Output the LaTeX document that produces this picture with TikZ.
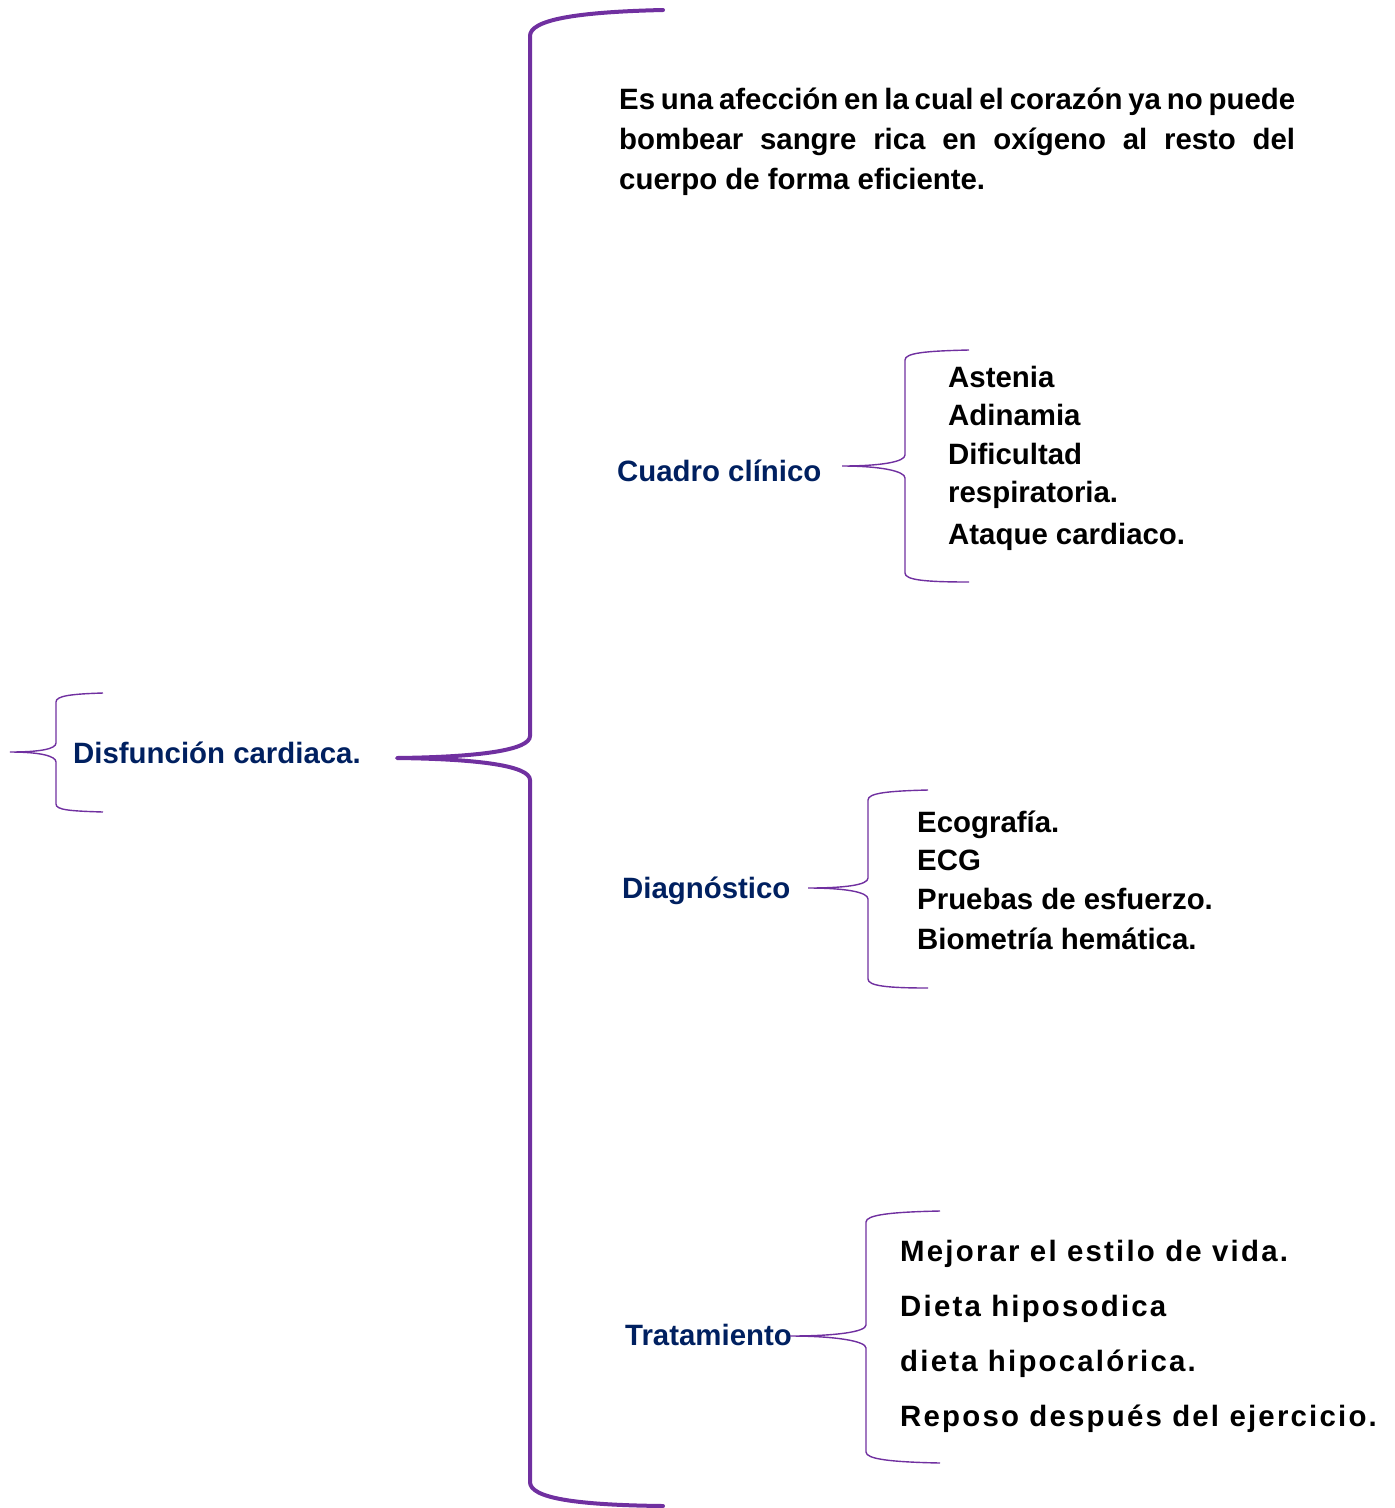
\documentclass[tikz,border=0pt]{standalone}
\usepackage{fontspec}
\setmainfont{Liberation Sans}
\newfontfamily\spacedfont[LetterSpace=7.5]{Liberation Sans}
\definecolor{brpurple}{HTML}{7030A0}
\definecolor{navy}{RGB}{0,32,96}
\begin{document}
\begin{tikzpicture}[x=1pt,y=-1pt,
  bigbr/.style={draw=brpurple,line width=4pt,line cap=round,line join=round},
  smallbr/.style={draw=brpurple,line width=1.4pt},
  txt/.style={anchor=base west,inner sep=0pt,font=\fontsize{29.4}{36}\selectfont\bfseries},
  head/.style={txt,text=navy},
  item/.style={txt,text=black},
  spaced/.style={anchor=base west,inner sep=0pt,text=black,font=\fontsize{29.4}{36}\selectfont\spacedfont\bfseries}]
\useasboundingbox (0,0) rectangle (1395,1508);

% main label
\node[head] (disf) at (73,763) {Disfunción cardiaca.};

% definition paragraph
\node[item] (def1) at (619,109) {\makebox[676pt][s]{Es una afección en la cual el corazón ya no puede}};
\node[item] (def2) at (619,149) {\makebox[676pt][s]{bombear sangre rica en oxígeno al resto del}};
\node[item] (def3) at (619,189) {cuerpo de forma eficiente.};

% headings
\node[head] (cuadro) at (617,481) {Cuadro clínico};
\node[head] (diag) at (622,898) {Diagnóstico};
\node[head] (trat) at (625,1345) {Tratamiento};

% cuadro clinico items
\node[item] (c1) at (948,387) {Astenia};
\node[item] (c2) at (948,425) {Adinamia};
\node[item] (c3) at (948,464) {Dificultad};
\node[item] (c4) at (948,502) {respiratoria.};
\node[item] (c5) at (948,544) {Ataque cardiaco.};

% diagnostico items
\node[item] (d1) at (917,832) {Ecografía.};
\node[item] (d2) at (917,870) {ECG};
\node[item] (d3) at (917,909) {Pruebas de esfuerzo.};
\node[item] (d4) at (917,949) {Biometría hemática.};

% tratamiento items
\node[spaced] (t1) at (900,1261) {Mejorar el estilo de vida.};
\node[spaced] (t2) at (900,1316) {Dieta hiposodica};
\node[spaced] (t3) at (900,1371) {dieta hipocalórica.};
\node[spaced] (t4) at (900,1426) {Reposo después del ejercicio.};

% brace coordinates
\coordinate (lbtip) at (10,752);
\coordinate (lbtop) at (103,693);
\coordinate (lbbot) at (103,812);
\coordinate (bigtip) at (397,758);
\coordinate (bigtop) at (663,10);
\coordinate (bigbot) at (663,1506);
\coordinate (cbtip) at (842,466);
\coordinate (cbtop) at (969,350);
\coordinate (cbbot) at (969,582);
\coordinate (dbtip) at (808,888);
\coordinate (dbtop) at (928,790);
\coordinate (dbbot) at (928,988);
\coordinate (tbtip) at (790,1336);
\coordinate (tbtop) at (940,1211);
\coordinate (tbbot) at (940,1463);

% left small brace
\draw[smallbr] (lbtop) .. controls (70,694) and (56,696) .. (56,702) -- (56,743)
  .. controls (56,749) and (40,752) .. (lbtip)
  .. controls (40,752) and (56,756) .. (56,762) -- (56,804)
  .. controls (56,810) and (70,811) .. (lbbot);

% big brace
\draw[bigbr] (bigtop) .. controls (575,12) and (530,20) .. (530,36) -- (530,736)
  .. controls (530,750) and (480,757) .. (bigtip)
  .. controls (480,759) and (530,766) .. (530,780) -- (530,1482)
  .. controls (530,1498) and (575,1505) .. (bigbot);

% cuadro brace
\draw[smallbr] (cbtop) .. controls (925,351) and (905,353) .. (905,360) -- (905,455)
  .. controls (905,462) and (880,466) .. (cbtip)
  .. controls (880,466) and (905,471) .. (905,478) -- (905,573)
  .. controls (905,580) and (925,582) .. (cbbot);

% diagnostico brace
\draw[smallbr] (dbtop) .. controls (888,791) and (868,793) .. (868,800) -- (868,878)
  .. controls (868,885) and (845,888) .. (dbtip)
  .. controls (845,888) and (868,892) .. (868,899) -- (868,979)
  .. controls (868,986) and (888,988) .. (dbbot);

% tratamiento brace
\draw[smallbr] (tbtop) .. controls (890,1212) and (866,1215) .. (866,1222) -- (866,1325)
  .. controls (866,1332) and (835,1336) .. (tbtip)
  .. controls (835,1336) and (866,1341) .. (866,1348) -- (866,1452)
  .. controls (866,1459) and (890,1462) .. (tbbot);
\end{tikzpicture}
\end{document}
